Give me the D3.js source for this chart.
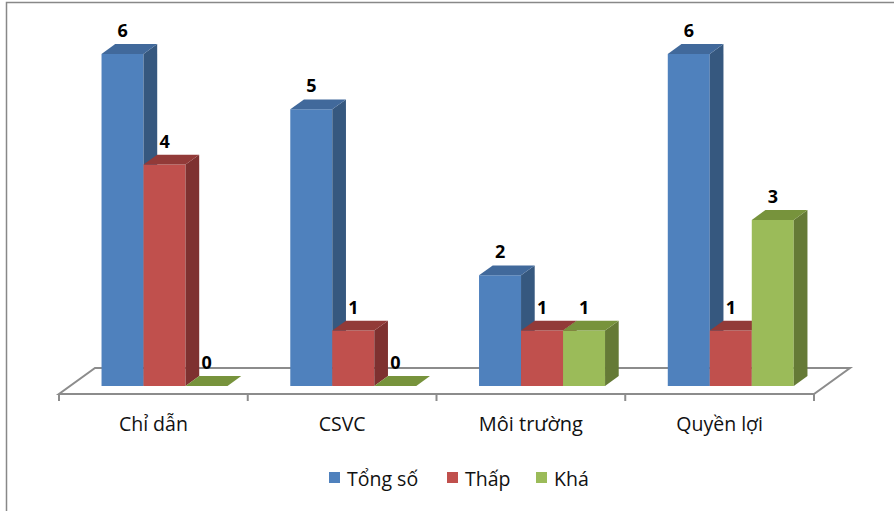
<!DOCTYPE html>
<html>
<head>
<meta charset="utf-8">
<script src="https://cdn.jsdelivr.net/npm/d3@7"></script>
<style>
	body { margin: 0; background: #fff; }
	svg text { font-family: "Open Sans", "Noto Sans", sans-serif; }
</style>
</head>
<body>
<svg id="chart" width="894" height="511"></svg>
<script>
// data
var categories	= ["Chỉ dẫn", "CSVC", "Môi trường", "Quyền lợi"];
var series	= ["Tổng số", "Thấp", "Khá"];
var tongSo	= [6, 5, 2, 6];
var thap	= [4, 1, 1, 1];
var kha		= [0, 0, 1, 3];
var yTicks	= [0, 1, 2, 3, 4, 5, 6];

var values = [tongSo, thap, kha];
var colors = [
	{ front: "#4F81BD", top: "#41699B", side: "#36587F" },
	{ front: "#C0504D", top: "#923A38", side: "#7E3130" },
	{ front: "#9BBB59", top: "#77933C", side: "#657A36" }
];

var svg = d3.select("#chart");

// outer frame
svg.append("rect").attr("x", 6.5).attr("y", 2.5).attr("width", 900).attr("height", 520)
	.attr("fill", "none").attr("stroke", "#888").attr("stroke-width", 1.5);

// projection: x on front plane, z depth 0..1
var depthX = 36, depthY = -26;
var x0 = d3.scaleBand().domain(categories).range([59, 814]);
var barW = 42;
var x1 = d3.scaleBand().domain(series)
	.range([(x0.bandwidth() - 3 * barW) / 2, (x0.bandwidth() + 3 * barW) / 2]);
var y = d3.scaleLinear().domain([0, d3.max(yTicks)]).range([394, 62]);
function P(px, py, z) { return [px + z * depthX, py + z * depthY]; }
function poly(pts) { return pts.map(function(p) { return p.join(","); }).join(" "); }

// floor
var fx0 = x0.range()[0], fx1 = x0.range()[1], fy = y(0);
svg.append("polygon")
	.attr("points", poly([P(fx0, fy, 0), P(fx1, fy, 0), P(fx1, fy, 1), P(fx0, fy, 1)]))
	.attr("fill", "#fff").attr("stroke", "#8C8C8C").attr("stroke-width", 2);

// category ticks on front edge
var tickXs = categories.map(function(c) { return x0(c); }).concat([fx1]);
svg.selectAll(".tick").data(tickXs).enter().append("line")
	.attr("x1", function(d) { return d; }).attr("x2", function(d) { return d; })
	.attr("y1", fy).attr("y2", fy + 7)
	.attr("stroke", "#8C8C8C").attr("stroke-width", 2);

// bars
var z0 = 0.31, z1 = 0.69;
var bars = [];
categories.forEach(function(c, ci) {
	series.forEach(function(s, si) {
		bars.push({ cat: c, ser: s, si: si, v: values[si][ci] });
	});
});

var g = svg.append("g");
bars.forEach(function(d) {
	var xl = x0(d.cat) + x1(d.ser), xr = xl + x1.bandwidth();
	var yb = y(0), yt = y(d.v);
	var c = colors[d.si];
	var b = g.append("g");
	if (d.v > 0) {
		b.append("polygon").attr("fill", c.front)
			.attr("points", poly([P(xl, yt, z0), P(xr, yt, z0), P(xr, yb, z0), P(xl, yb, z0)]));
		b.append("polygon").attr("fill", c.side)
			.attr("points", poly([P(xr, yt, z0), P(xr, yt, z1), P(xr, yb, z1), P(xr, yb, z0)]));
	}
	b.append("polygon").attr("fill", c.top)
		.attr("points", poly([P(xl, yt, z0), P(xr, yt, z0), P(xr, yt, z1), P(xl, yt, z1)]));
	var lp = P((xl + xr) / 2, yt, z0);
	svg.append("text").attr("x", lp[0]).attr("y", lp[1] - 17)
		.attr("text-anchor", "middle").attr("font-weight", "bold").attr("font-size", 18)
		.attr("fill", "#000").text(d.v);
});

// category labels
svg.selectAll(".cat").data(categories).enter().append("text")
	.attr("x", function(d) { return x0(d) + x0.bandwidth() / 2; })
	.attr("y", 431).attr("text-anchor", "middle")
	.attr("font-size", function(d, i) { return i == 2 ? 20 : 19.5; })
	.attr("fill", "#111").text(function(d) { return d; });

// legend
var legX = [329, 447, 536];
var leg = svg.selectAll(".leg").data(series).enter().append("g")
	.attr("transform", function(d, i) { return "translate(" + legX[i] + ",472)"; });
leg.append("rect").attr("width", 11).attr("height", 11)
	.attr("fill", function(d, i) { return colors[i].front; });
leg.append("text").attr("x", 18).attr("y", 13.5).attr("font-size", 19.5)
	.attr("fill", "#111").text(function(d) { return d; });
</script>
</body>
</html>
